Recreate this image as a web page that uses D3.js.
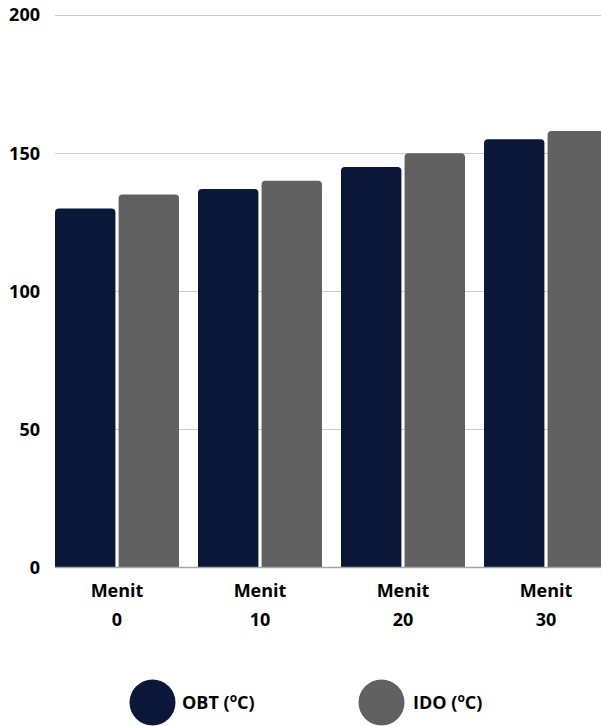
<!DOCTYPE html>
<html><head><meta charset="utf-8">
<script src="https://cdn.jsdelivr.net/npm/d3@7"></script>
<style>html,body{margin:0;padding:0;background:#fff;}svg{display:block;}</style>
</head><body>
<svg id="c" width="601" height="726"></svg>
<script>
const categories = ["0", "10", "20", "30"];
const seriesNames = ["OBT", "IDO"];
const obtValues = [130, 137, 145, 155];
const idoValues = [135, 140, 150, 158];
const yTicks = [0, 50, 100, 150, 200];
const colors = {OBT: "#0b1739", IDO: "#616161"};

const svg = d3.select("#c");
const font = "'Open Sans', sans-serif";
const y = d3.scaleLinear().domain([0, 200]).range([567.5, 15]);
const x = d3.scaleBand().domain(categories).range([55, 608]).paddingInner(19/143).paddingOuter(0);
const xi = d3.scaleBand().domain(seriesNames).range([0, x.bandwidth()]).paddingInner(0.05);

// gridlines
svg.append("g").selectAll("line").data(yTicks.filter(d => d > 0)).join("line")
  .attr("x1", 55).attr("x2", 601).attr("y1", d => Math.round(y(d)) + 0.5).attr("y2", d => Math.round(y(d)) + 0.5)
  .attr("stroke", "#cccccc").attr("stroke-width", 1);

// tick labels
svg.append("g").selectAll("text").data(yTicks).join("text")
  .attr("x", 40).attr("y", d => y(d)).attr("dy", "0.36em").attr("text-anchor", "end")
  .attr("font-family", font).attr("font-weight", 700).attr("font-size", 18)
  .attr("fill", "#000").text(d => d);

const rows = categories.map((c, i) => ({cat: c, OBT: obtValues[i], IDO: idoValues[i]}));
const r = 4;
function barPath(x0, w, yTop, yBase) {
  const p = d3.path();
  p.moveTo(x0, yBase);
  p.lineTo(x0, yTop + r);
  p.quadraticCurveTo(x0, yTop, x0 + r, yTop);
  p.lineTo(x0 + w - r, yTop);
  p.quadraticCurveTo(x0 + w, yTop, x0 + w, yTop + r);
  p.lineTo(x0 + w, yBase);
  p.closePath();
  return p.toString();
}
const g = svg.append("g").selectAll("g").data(rows).join("g")
  .attr("transform", d => `translate(${x(d.cat)},0)`);
g.selectAll("path").data(d => seriesNames.map(s => ({s, v: d[s]}))).join("path")
  .attr("d", d => barPath(xi(d.s), xi.bandwidth(), y(d.v), y(0)))
  .attr("fill", d => colors[d.s]);

// baseline
svg.append("line").attr("x1", 55).attr("x2", 601).attr("y1", 567.5).attr("y2", 567.5)
  .attr("stroke", "#a6a6a6").attr("stroke-width", 1.5);

// x labels
const xl = svg.append("g").selectAll("text").data(categories).join("text")
  .attr("x", d => x(d) + x.bandwidth() / 2).attr("text-anchor", "middle")
  .attr("font-family", font).attr("font-weight", 700).attr("font-size", 18).attr("fill", "#000");
xl.append("tspan").attr("x", d => x(d) + x.bandwidth() / 2).attr("y", 597).text("Menit");
xl.append("tspan").attr("x", d => x(d) + x.bandwidth() / 2).attr("y", 626).text(d => d);

// legend
const legend = [{s: "OBT", label: "OBT (", cx: 152.5, tx: 182}, {s: "IDO", label: "IDO (", cx: 381.5, tx: 413}];
const lg = svg.append("g").selectAll("g").data(legend).join("g");
lg.append("circle").attr("cx", d => d.cx).attr("cy", 702.5).attr("r", 23).attr("fill", d => colors[d.s]);
const lt = lg.append("text").attr("x", d => d.tx).attr("y", 709)
  .attr("font-family", font).attr("font-weight", 700).attr("font-size", 18).attr("fill", "#000");
lt.append("tspan").text(d => d.label);
lt.append("tspan").attr("font-size", 12).attr("dy", -7).text("o");
lt.append("tspan").attr("dy", 7).text("C)");
</script>
</body></html>
